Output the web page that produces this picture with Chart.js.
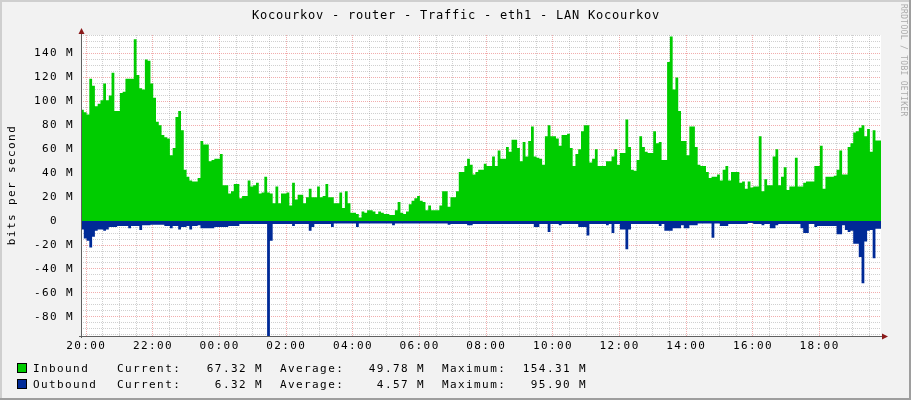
<!DOCTYPE html>
<html><head><meta charset="utf-8">
<script src="https://cdn.jsdelivr.net/npm/chart.js@4"></script>
<style>html,body{margin:0;padding:0;background:#F2F2F2;}canvas{display:block;}</style>
</head><body>
<canvas id="c" width="911" height="400"></canvas>
<script>
const chartTitle = "Kocourkov - router - Traffic - eth1 - LAN Kocourkov";
const yAxisTitle = "bits per second";
const sideText = "RRDTOOL / TOBI OETIKER";
const seriesNames = ["Inbound", "Outbound"];
const statLabels = ["Current:", "Average:", "Maximum:"];
const inboundStats = ["67.32 M", "49.78 M", "154.31 M"];
const outboundStats = ["6.32 M", "4.57 M", "95.90 M"];
const xTickLabels = ["20:00","22:00","00:00","02:00","04:00","06:00","08:00","10:00","12:00","14:00","16:00","18:00"];
const yTickValues = [-80,-60,-40,-20,0,20,40,60,80,100,120,140];
const startMinute = -9.5;   // first sample, minutes relative to 20:00
const stepMinutes = 5;

// Inbound traffic, Mbit/s, one value per 5 minutes
const inbound = [
 84,93,91,89,119,113,96,98,101,115,
 101,105,124,92,92,107,108,119,119,119,
 152,122,111,110,135,134,115,103,83,80,
 72,70,69,55,61,87,92,76,43,37,
 34,33,33,36,67,64,64,50,51,52,
 52,56,30,30,23,25,31,31,19,21,
 21,34,29,30,32,23,24,37,24,23,
 15,29,15,23,23,24,13,32,18,22,
 22,15,20,27,20,20,29,20,21,31,
 20,20,15,15,24,11,25,15,7,7,
 6,3,8,7,9,9,8,6,8,7,
 6,6,5,5,9,16,7,6,8,14,
 17,19,21,17,16,9,13,9,9,9,
 13,25,25,12,20,20,25,41,41,46,
 52,47,39,41,43,43,48,46,46,54,
 46,59,52,52,62,58,68,68,61,50,
 66,54,67,79,54,53,52,47,71,80,
 71,71,69,63,72,72,73,61,46,56,
 60,75,80,80,49,52,60,46,46,46,
 50,50,54,60,47,57,57,85,62,43,
 42,51,71,62,58,57,57,75,65,66,
 51,51,133,154.31,110,120,92,67,67,55,
 79,79,62,47,46,46,41,36,37,37,
 39,34,43,46,34,41,41,41,32,33,
 27,33,28,29,29,71,25,35,30,30,
 54,60,30,37,45,26,29,29,53,29,
 29,32,33,33,33,46,46,63,27,37,
 37,37,38,43,59,39,39,62,65,74,
 75,78,80,71,77,58,76,67.32
];
// Outbound traffic, Mbit/s (drawn below zero)
const outbound = [
 7,7,14.5,16.5,22,13,8,7,7,8,
 7,5,5,5,4,4,4,4,6,4,
 4,4,7.5,3.5,3.5,3.5,3,3,3,3,
 3,4,4,6,4,4,7,5,5,4,
 7,4,4,3.5,6,6,6,6,6,5,
 5,5,5,5,4,4,4,4,2.5,2.5,
 2.5,2.5,2.5,2.5,2.5,2.5,2.5,2.5,95.9,16.5,
 2.5,2.5,2.5,2.5,2.5,2.5,2.5,4,2.5,2.5,
 2.5,2.5,2.5,8,5,2.5,2.5,2.5,2.5,2.5,
 2.5,5,2,2,2,2,2,2,2,2,
 5,2,2,2,2,2,2,2,2,2,
 2,2,2,3.5,2,2,2,2,2,2,
 2,2,2,2,2,2,2,2,2,2,
 2,2,2,3,2.5,2.5,2.5,2.5,2.5,2.5,
 3.5,3.5,2.5,2.5,2.5,2.5,2.5,2.5,2.5,2.5,
 2.5,2.5,2.5,2.5,2.5,2.5,2.5,2.5,2.5,2.5,
 2.5,2.5,2.5,2.5,5,5,2.5,2.5,2.5,9,
 2.5,2.5,2.5,3.5,2.5,2.5,2.5,2.5,2.5,2.5,
 5,5,5,12,2.5,2.5,2.5,2.5,2.5,2.5,
 3.5,2.5,10,2.5,2.5,7,7,23.5,7,2.5,
 2.5,2.5,2.5,2.5,2.5,2.5,2.5,2.5,2.5,4,
 2.5,8,8,8,6,6,6,3.5,6,6,
 3.5,3.5,3.5,2,2,2,2,2,14,2,
 2,4,4,4,2.5,2.5,2.5,2.5,2.5,2.5,
 2.5,1.5,1.5,2.5,2.5,2.5,3.5,2.5,2.5,6,
 6,3.5,2.5,2.5,2.5,2.5,2.5,2.5,2.5,2.5,
 6,10,10,2.5,2.5,5,4,4,4,4,
 4,4,4,11,11,3.5,7.5,9,8,19,
 19,30,52,17,8,7.5,31,6.32
];

const FONT = '"DejaVu Sans Mono", "Liberation Mono", monospace';
const GREEN = '#00CC00', BLUE = '#002A97';
const MAJOR = 'rgba(225,60,60,0.42)', MINOR = 'rgba(150,150,150,0.45)';

function toPoints(arr, sign) {
  const d = arr.map((v, i) => ({x: startMinute + i * stepMinutes, y: sign * v}));
  d.push({x: startMinute + arr.length * stepMinutes, y: sign * arr[arr.length - 1]});
  return d;
}
function yLabel(v) {
  if (!yTickValues.includes(v)) return '';
  if (v === 0) return '0  ';
  return (v < 0 ? '-' + (-v) : String(v)) + ' M';
}

const decor = {
  id: 'decor',
  beforeDraw(chart) {
    const {ctx, width, height, chartArea: a} = chart;
    ctx.save();
    ctx.fillStyle = '#F2F2F2'; ctx.fillRect(0, 0, width, height);
    ctx.fillStyle = '#CFCFCF'; ctx.fillRect(0, 0, width, 2); ctx.fillRect(0, 0, 2, height);
    ctx.fillStyle = '#9E9E9E'; ctx.fillRect(0, height - 2, width, 2); ctx.fillRect(width - 2, 0, 2, height);
    ctx.fillStyle = '#FFFFFF'; ctx.fillRect(a.left, a.top, a.right - a.left, a.bottom - a.top);
    ctx.restore();
    ctx.letterSpacing = '1.4px';
  },
  afterDraw(chart) {
    const {ctx, chartArea: a} = chart;
    ctx.save();
    // axes
    ctx.strokeStyle = '#606060'; ctx.lineWidth = 1;
    ctx.beginPath();
    ctx.moveTo(a.left - 2, a.bottom + 0.5); ctx.lineTo(a.right + 2, a.bottom + 0.5);
    ctx.moveTo(a.left + 0.5, a.bottom + 2); ctx.lineTo(a.left + 0.5, a.top - 2);
    ctx.stroke();
    ctx.fillStyle = '#8B1A1A';
    ctx.beginPath();
    ctx.moveTo(a.right + 1, a.bottom - 2.5); ctx.lineTo(a.right + 1, a.bottom + 3.5); ctx.lineTo(a.right + 7, a.bottom + 0.5); ctx.closePath(); ctx.fill();
    ctx.beginPath();
    ctx.moveTo(a.left - 2.5, a.top - 1); ctx.lineTo(a.left + 3.5, a.top - 1); ctx.lineTo(a.left + 0.5, a.top - 7); ctx.closePath(); ctx.fill();

    ctx.fillStyle = '#000';
    // title
    ctx.letterSpacing = '0.78px';
    ctx.font = '12px ' + FONT; ctx.textAlign = 'center'; ctx.textBaseline = 'alphabetic';
    ctx.fillText(chartTitle, 456, 19);
    // y title
    ctx.letterSpacing = '1.4px';
    ctx.font = '11px ' + FONT;
    ctx.save(); ctx.translate(15, 185); ctx.rotate(-Math.PI / 2);
    ctx.fillText(yAxisTitle, 0, 0); ctx.restore();
    // legend
    const rows = [[seriesNames[0], GREEN, inboundStats, 372], [seriesNames[1], BLUE, outboundStats, 388]];
    const labelX = [117, 280, 442], valueX = [263, 425, 587];
    rows.forEach(([name, col, stats, y]) => {
      ctx.fillStyle = '#000'; ctx.fillRect(17, y - 9, 10, 10);
      ctx.fillStyle = col; ctx.fillRect(18, y - 8, 8, 8);
      ctx.fillStyle = '#000'; ctx.textAlign = 'left';
      ctx.fillText(name, 33, y);
      stats.forEach((s, k) => {
        ctx.textAlign = 'left'; ctx.fillText(statLabels[k], labelX[k], y);
        ctx.textAlign = 'right'; ctx.fillText(s, valueX[k], y);
      });
    });
    // side credit
    ctx.letterSpacing = '0.3px';
    ctx.font = '8px ' + FONT; ctx.fillStyle = '#ABABAB'; ctx.textAlign = 'left'; ctx.textBaseline = 'middle';
    ctx.translate(903, 4); ctx.rotate(Math.PI / 2);
    ctx.fillText(sideText, 0, 0);
    ctx.restore();
  }
};

const tickFont = {family: FONT, size: 11};
new Chart(document.getElementById('c'), {
  type: 'line',
  data: {
    datasets: [
      {label: seriesNames[0], data: toPoints(inbound, 1), stepped: 'after', fill: 'origin',
       backgroundColor: GREEN, borderColor: 'rgba(0,0,0,0)', borderWidth: 0, pointRadius: 0},
      {label: seriesNames[1], data: toPoints(outbound, -1), stepped: 'after', fill: 'origin',
       backgroundColor: BLUE, borderColor: 'rgba(0,0,0,0)', borderWidth: 0, pointRadius: 0}
    ]
  },
  options: {
    responsive: false, animation: false, events: [],
    devicePixelRatio: 1,
    layout: {padding: {top: 35, right: 30, left: 0, bottom: 0}},
    plugins: {legend: {display: false}, tooltip: {enabled: false}, title: {display: false}},
    scales: {
      x: {
        type: 'linear', min: startMinute, max: startMinute + inbound.length * stepMinutes,
        afterBuildTicks(s) { const t = []; for (let m = 0; m <= s.max; m += 30) t.push({value: m}); s.ticks = t; },
        ticks: {autoSkip: false, maxRotation: 0, minRotation: 0, padding: 4, color: '#000', font: tickFont,
          callback: v => (v % 120 === 0 ? xTickLabels[v / 120] : '')},
        grid: {drawTicks: false, lineWidth: 1, color: c => (c.tick && c.tick.value % 120 === 0 ? MAJOR : MINOR)},
        border: {display: false, dash: [1, 1]},
        afterFit(s) { s.height = 64; }
      },
      y: {
        min: -96, max: 155.5,
        afterBuildTicks(s) { const t = []; for (let v = -95; v <= 155; v += 5) t.push({value: v}); s.ticks = t; },
        ticks: {autoSkip: false, padding: 7, color: '#000', font: tickFont, callback: v => yLabel(v)},
        grid: {drawTicks: false, lineWidth: 1, color: c => (c.tick && c.tick.value % 20 === 0 ? MAJOR : MINOR)},
        border: {display: false, dash: [1, 1]},
        afterFit(s) { s.width = 81; }
      }
    }
  },
  plugins: [decor]
});
</script>
</body></html>
